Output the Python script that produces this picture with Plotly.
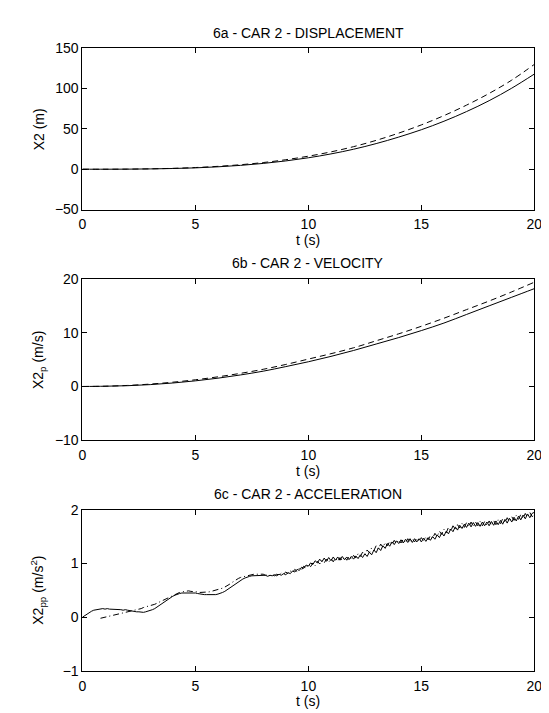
import plotly.graph_objects as go

# ---------------- data ----------------
T_SEC = [0, 1, 2, 3, 4, 5, 6, 7, 8, 9, 10, 11, 12, 13, 14, 15, 16, 17, 18, 19, 20]

X2_SOLID = [0, 0, 0.1, 0.4, 0.9, 1.7, 3.0, 4.8, 7.2, 10.3, 14.2, 19.0, 24.8, 31.8,
            39.9, 49.0, 59.5, 71.5, 85.0, 100.5, 118]
X2_DASHED = [0, 0, 0.15, 0.5, 1.1, 2.1, 3.6, 5.6, 8.3, 11.8, 16.2, 21.5, 28.0, 35.8,
             44.8, 55.0, 66.5, 79.5, 94.0, 110.5, 130]

V2_SOLID = [0, 0.05, 0.15, 0.35, 0.65, 1.05, 1.55, 2.15, 2.85, 3.7, 4.6, 5.6, 6.7,
            7.9, 9.1, 10.4, 11.8, 13.4, 15.0, 16.6, 18.2]
V2_DASHED = [0, 0.05, 0.2, 0.45, 0.8, 1.25, 1.8, 2.45, 3.2, 4.1, 5.1, 6.1, 7.2,
             8.5, 9.8, 11.2, 12.7, 14.3, 15.9, 17.6, 19.4]

T_ACC = [i / 10 for i in range(201)]

A2_SOLID = [
    0.00, 0.03, 0.06, 0.09, 0.11, 0.13, 0.14, 0.15, 0.15, 0.16,
    0.15, 0.16, 0.15, 0.15, 0.14, 0.15, 0.14, 0.14, 0.13, 0.14,
    0.13, 0.12, 0.12, 0.11, 0.10, 0.10, 0.09, 0.09, 0.10, 0.11,
    0.12, 0.14, 0.16, 0.19, 0.22, 0.25, 0.28, 0.31, 0.34, 0.37,
    0.39, 0.41, 0.43, 0.44, 0.45, 0.45, 0.46, 0.45, 0.45, 0.46,
    0.45, 0.44, 0.43, 0.43, 0.42, 0.42, 0.42, 0.41, 0.42, 0.42,
    0.43, 0.44, 0.46, 0.48, 0.51, 0.54, 0.57, 0.60, 0.63, 0.66,
    0.69, 0.71, 0.73, 0.75, 0.76, 0.77, 0.77, 0.78, 0.77, 0.78,
    0.77, 0.78, 0.76, 0.78, 0.77, 0.79, 0.77, 0.80, 0.78, 0.81,
    0.79, 0.83, 0.81, 0.86, 0.84, 0.89, 0.87, 0.93, 0.91, 0.97,
    0.95, 1.01, 0.98, 1.05, 1.01, 1.08, 1.03, 1.10, 1.04, 1.11,
    1.05, 1.12, 1.06, 1.12, 1.06, 1.13, 1.07, 1.12, 1.07, 1.13,
    1.08, 1.14, 1.09, 1.16, 1.11, 1.18, 1.13, 1.21, 1.16, 1.25,
    1.20, 1.29, 1.24, 1.33, 1.28, 1.37, 1.32, 1.40, 1.35, 1.42,
    1.37, 1.44, 1.38, 1.45, 1.39, 1.46, 1.39, 1.46, 1.40, 1.46,
    1.40, 1.47, 1.41, 1.48, 1.43, 1.50, 1.45, 1.53, 1.48, 1.57,
    1.51, 1.60, 1.55, 1.64, 1.59, 1.68, 1.62, 1.71, 1.65, 1.73,
    1.67, 1.75, 1.68, 1.76, 1.69, 1.76, 1.69, 1.77, 1.70, 1.77,
    1.70, 1.78, 1.71, 1.79, 1.72, 1.80, 1.73, 1.82, 1.75, 1.84,
    1.77, 1.86, 1.79, 1.88, 1.81, 1.90, 1.83, 1.92, 1.85, 1.93,
    1.95,
]

A2_DASHDOT = [
    None, None, None, None, None, None, None, None, -0.02, -0.01,
    0.00, 0.01, 0.02, 0.03, 0.04, 0.05, 0.06, 0.07, 0.08, 0.08,
    0.09, 0.10, 0.11, 0.12, 0.13, 0.15, 0.16, 0.18, 0.19, 0.20,
    0.21, 0.22, 0.24, 0.26, 0.28, 0.31, 0.33, 0.35, 0.37, 0.39,
    0.41, 0.43, 0.45, 0.46, 0.47, 0.48, 0.49, 0.49, 0.48, 0.48,
    0.47, 0.47, 0.46, 0.46, 0.46, 0.47, 0.47, 0.48, 0.49, 0.50,
    0.51, 0.52, 0.54, 0.56, 0.58, 0.61, 0.64, 0.67, 0.70, 0.72,
    0.74, 0.75, 0.77, 0.78, 0.79, 0.79, 0.80, 0.80, 0.80, 0.79,
    0.80, 0.78, 0.79, 0.77, 0.79, 0.77, 0.80, 0.78, 0.82, 0.80,
    0.84, 0.81, 0.86, 0.83, 0.89, 0.85, 0.91, 0.88, 0.95, 0.91,
    0.98, 0.94, 1.01, 0.96, 1.04, 0.99, 1.06, 1.01, 1.08, 1.02,
    1.09, 1.03, 1.10, 1.04, 1.11, 1.05, 1.12, 1.06, 1.13, 1.08,
    1.15, 1.10, 1.18, 1.13, 1.21, 1.16, 1.25, 1.20, 1.29, 1.24,
    1.33, 1.27, 1.36, 1.30, 1.39, 1.33, 1.41, 1.35, 1.43, 1.37,
    1.44, 1.38, 1.45, 1.38, 1.46, 1.39, 1.46, 1.40, 1.47, 1.41,
    1.48, 1.42, 1.50, 1.44, 1.52, 1.47, 1.56, 1.50, 1.60, 1.54,
    1.64, 1.57, 1.67, 1.60, 1.70, 1.63, 1.72, 1.66, 1.74, 1.67,
    1.76, 1.68, 1.77, 1.69, 1.77, 1.70, 1.78, 1.70, 1.78, 1.71,
    1.79, 1.71, 1.80, 1.72, 1.81, 1.74, 1.83, 1.76, 1.85, 1.78,
    1.87, 1.80, 1.89, 1.82, 1.91, 1.84, 1.93, 1.86, 1.95, 1.87,
    1.90,
]

X_TICKS = [0, 5, 10, 15, 20]
Y1_TICKS = [-50, 0, 50, 100, 150]
Y2_TICKS = [-10, 0, 10, 20]
Y3_TICKS = [-1, 0, 1, 2]

TITLES = ["6a - CAR 2 - DISPLACEMENT", "6b - CAR 2 - VELOCITY", "6c - CAR 2 - ACCELERATION"]
YLABELS = ["X2 (m)", "X2<sub>p</sub> (m/s)", "X2<sub>pp</sub> (m/s<sup>2</sup>)"]
XLABEL = "t (s)"

# ---------------- layout geometry (pixels) ----------------
W, H = 549, 713
LEFT, RIGHT = 72, 534
PLOTS = [(33, 198), (269, 434), (505, 670)]

FONT = "Liberation Sans, Arial, sans-serif"
FS = 14

fig = go.Figure()

DASH = "6px,4px"
DASHDOT = "6px,3px,1px,3px"

fig.add_trace(go.Scatter(x=T_SEC, y=X2_SOLID, mode="lines", line=dict(color="black", width=1, shape="spline"),
                         xaxis="x", yaxis="y", showlegend=False))
fig.add_trace(go.Scatter(x=T_SEC, y=X2_DASHED, mode="lines", line=dict(color="black", width=1, dash=DASH, shape="spline"),
                         xaxis="x", yaxis="y", showlegend=False))
fig.add_trace(go.Scatter(x=T_SEC, y=V2_SOLID, mode="lines", line=dict(color="black", width=1, shape="spline"),
                         xaxis="x2", yaxis="y2", showlegend=False))
fig.add_trace(go.Scatter(x=T_SEC, y=V2_DASHED, mode="lines", line=dict(color="black", width=1, dash=DASH, shape="spline"),
                         xaxis="x2", yaxis="y2", showlegend=False))
fig.add_trace(go.Scatter(x=T_ACC, y=A2_SOLID, mode="lines", line=dict(color="black", width=1),
                         xaxis="x3", yaxis="y3", showlegend=False))
fig.add_trace(go.Scatter(x=T_ACC, y=A2_DASHDOT, mode="lines", line=dict(color="black", width=1, dash=DASHDOT),
                         xaxis="x3", yaxis="y3", showlegend=False))


def ax_common():
    return dict(showline=True, linecolor="black", linewidth=1, mirror="ticks",
                ticks="inside", ticklen=5, tickcolor="black", tickwidth=1,
                showgrid=False, zeroline=False,
                tickfont=dict(family=FONT, size=FS, color="black"))


xdom = [LEFT / W, RIGHT / W]
yranges = [[-50, 150], [-10, 20], [-1, 2]]
yticks = [Y1_TICKS, Y2_TICKS, Y3_TICKS]
layout_axes = {}
annotations = []
for i, (top, bot) in enumerate(PLOTS):
    sfx = "" if i == 0 else str(i + 1)
    ydom = [1 - bot / H, 1 - top / H]
    xa = ax_common()
    xa.update(domain=xdom, range=[0, 20], tickvals=X_TICKS, anchor="y" + sfx, ticklabelstandoff=2)
    ya = ax_common()
    ya.update(domain=ydom, range=yranges[i], tickvals=yticks[i], anchor="x" + sfx)
    layout_axes["xaxis" + sfx] = xa
    layout_axes["yaxis" + sfx] = ya
    cx = (LEFT + RIGHT) / 2 / W
    annotations.append(dict(text=TITLES[i], x=cx, y=1 - (top - 16) / H, xref="paper", yref="paper",
                            showarrow=False, xanchor="center", yanchor="middle",
                            font=dict(family=FONT, size=FS, color="black")))
    annotations.append(dict(text=XLABEL, x=cx, y=1 - (bot + 31) / H, xref="paper", yref="paper",
                            showarrow=False, xanchor="center", yanchor="middle",
                            font=dict(family=FONT, size=FS, color="black")))
    annotations.append(dict(text=YLABELS[i], x=27 / W, y=1 - (top + bot) / 2 / H, xref="paper", yref="paper",
                            showarrow=False, xanchor="center", yanchor="middle", textangle=-90,
                            font=dict(family=FONT, size=FS, color="black")))

fig.update_layout(width=W, height=H, margin=dict(l=0, r=0, t=0, b=0),
                  paper_bgcolor="white", plot_bgcolor="white",
                  annotations=annotations, **layout_axes)

fig.write_html("out.html")
